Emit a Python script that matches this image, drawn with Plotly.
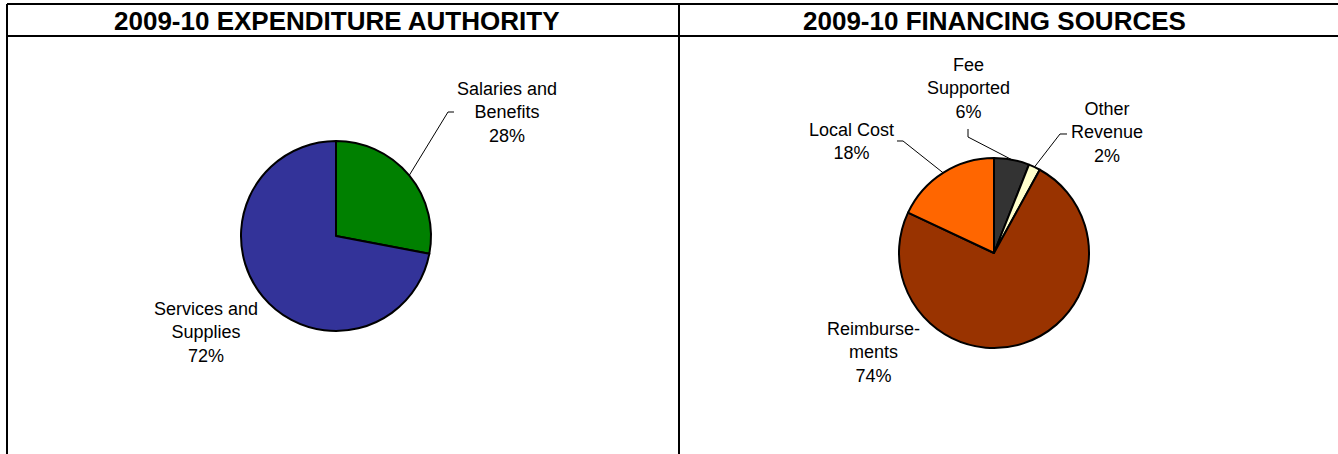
import math
import plotly.graph_objects as go

# ---------------- data ----------------
exp_labels = ["Salaries and Benefits", "Services and Supplies"]
exp_values = [28, 72]
exp_colors = ["#008000", "#333399"]
exp_text = ["Salaries and<br>Benefits<br>28%", "Services and<br>Supplies<br>72%"]

fin_labels = ["Fee Supported", "Other Revenue", "Reimbursements", "Local Cost"]
fin_values = [6, 2, 74, 18]
fin_colors = ["#333333", "#FFFFCC", "#993300", "#FF6600"]
fin_text = ["Fee<br>Supported<br>6%", "Other<br>Revenue<br>2%", "Reimburse-<br>ments<br>74%", "Local Cost<br>18%"]

titles = ["2009-10 EXPENDITURE AUTHORITY", "2009-10 FINANCING SOURCES"]

# ---------------- layout constants (pixels) ----------------
W, H = 1338, 454
R = 95
centers = [(336, 236), (994, 253)]
# label centre offsets from pie centre, and leader (elbow, tick end) offsets from label centre (None = no leader)
exp_label_off = [(171, -124), (-130, 96)]
exp_leader = [((-59, 0), (-53, 0)), None]
fin_label_off = [(-26, -164), (113, -121), (-121, 99), (-143, -112)]
fin_leader = [((0, 48), (0, 40)), ((-47, 2), (-40, 2)), None, ((52, 0), (46, 0))]

FONT = "Liberation Sans, Arial, sans-serif"


def px(x):
    return x / W


def py(y):
    return 1 - y / H


fig = go.Figure()
shapes = []
annotations = []


def add_pie(values, colors, labels, texts, center, label_off, leaders):
    cx, cy = center
    fig.add_trace(go.Pie(
        values=values, labels=labels, sort=False, direction="clockwise", rotation=0,
        marker=dict(colors=colors, line=dict(color="black", width=2)),
        textinfo="none", hoverinfo="label+percent", showlegend=False,
        domain=dict(x=[px(cx - R), px(cx + R)], y=[py(cy + R), py(cy - R)]),
    ))
    total = float(sum(values))
    cum = 0.0
    for v, t, off, lead in zip(values, texts, label_off, leaders):
        mid = (cum + v / 2) / total * 2 * math.pi
        cum += v
        lx, ly = cx + off[0], cy + off[1]
        annotations.append(dict(
            x=px(lx), y=py(ly), xref="paper", yref="paper", text=t, showarrow=False,
            xanchor="center", yanchor="middle", align="center",
            font=dict(family=FONT, size=18, color="black"),
        ))
        if lead is not None:
            rx = cx + R * math.sin(mid)
            ry = cy - R * math.cos(mid)
            (ex, ey), (tx, ty) = lead
            pts = [(lx + tx, ly + ty), (lx + ex, ly + ey), (rx, ry)]
            path = "M " + " L ".join(f"{px(a):.5f},{py(b):.5f}" for a, b in pts)
            shapes.append(dict(type="path", path=path, xref="paper", yref="paper",
                               line=dict(color="black", width=1)))


add_pie(exp_values, exp_colors, exp_labels, exp_text, centers[0], exp_label_off, exp_leader)
add_pie(fin_values, fin_colors, fin_labels, fin_text, centers[1], fin_label_off, fin_leader)

# titles
for t, (cx, _) in zip(titles, centers):
    annotations.append(dict(
        x=px(cx), y=py(21), xref="paper", yref="paper", text=f"<b>{t}</b>", showarrow=False,
        xanchor="center", yanchor="middle", font=dict(family=FONT, size=26, color="black"),
    ))

# panel frame lines
frame = [
    (7, 4, W, 4),
    (7, 36, W, 36),
    (7, 4, 7, H),
    (679, 4, 679, H),
]
for x0, y0, x1, y1 in frame:
    shapes.append(dict(type="line", xref="paper", yref="paper",
                       x0=px(x0), y0=py(y0), x1=px(x1), y1=py(y1),
                       line=dict(color="black", width=2)))

fig.update_layout(
    width=W, height=H, margin=dict(l=0, r=0, t=0, b=0),
    paper_bgcolor="white", plot_bgcolor="white",
    shapes=shapes, annotations=annotations,
)

fig.write_html(
    "out.html",
    config={"displayModeBar": False},
    post_script="document.body.style.margin='0';document.body.style.overflow='hidden';",
)
